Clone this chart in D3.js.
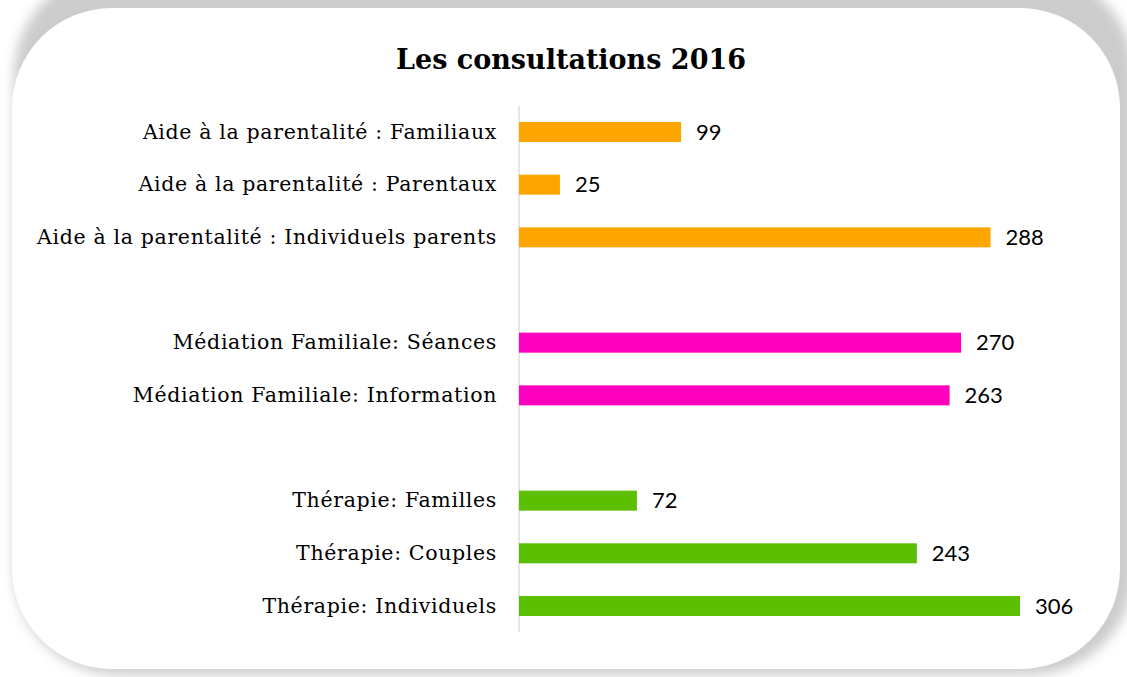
<!DOCTYPE html>
<html><head><meta charset="utf-8">
<script src="https://cdn.jsdelivr.net/npm/d3@7"></script>
<style>html,body{margin:0;padding:0;background:#fff;}svg{display:block;}</style>
</head><body>
<script>
const categories = [
  "Aide à la parentalité : Familiaux",
  "Aide à la parentalité : Parentaux",
  "Aide à la parentalité : Individuels parents",
  "",
  "Médiation Familiale: Séances",
  "Médiation Familiale: Information",
  " ",
  "Thérapie: Familles",
  "Thérapie: Couples",
  "Thérapie: Individuels"
];
const values = [99, 25, 288, null, 270, 263, null, 72, 243, 306];
const groups = ["aide", "aide", "aide", null, "med", "med", null, "ther", "ther", "ther"];
const groupColors = {aide: "#FFA500", med: "#FF00BF", ther: "#5CBF00"};
const title = "Les consultations 2016";

const W = 1127, H = 677;
const svg = d3.select("body").append("svg").attr("width", W).attr("height", H);
const defs = svg.append("defs");
const f = defs.append("filter").attr("id", "sh").attr("x", "-10%").attr("y", "-10%").attr("width", "120%").attr("height", "120%");
f.append("feGaussianBlur").attr("stdDeviation", 6);

svg.append("rect").attr("width", W).attr("height", H).attr("fill", "#fff");
svg.append("rect").attr("x", 14).attr("y", -30).attr("width", 1120).attr("height", 705)
  .attr("rx", 105).attr("fill", "#cccccc").attr("filter", "url(#sh)");
svg.append("rect").attr("x", 12).attr("y", 8).attr("width", 1108).attr("height", 661)
  .attr("rx", 100).attr("fill", "#fff");

svg.append("text").attr("x", 571).attr("y", 69).attr("text-anchor", "middle")
  .attr("font-family", "'DejaVu Serif', serif").attr("font-weight", "bold")
  .attr("font-size", 27).attr("fill", "#000").text(title);

const x = d3.scaleLinear().domain([0, 306]).range([519, 1020]);
const y = d3.scaleBand().domain(categories).range([105.7, 632.3]).paddingInner(0.62).paddingOuter(0.31);

const yAxis = d3.axisLeft(y).tickSize(0).tickPadding(22);
const gy = svg.append("g").attr("transform", "translate(519,0)").call(yAxis);
gy.select(".domain").attr("stroke", "#e6e6e6").attr("stroke-width", 2)
  .attr("d", "M0,105.7V632.3");
gy.selectAll("text").attr("font-family", "'DejaVu Serif', serif").attr("font-size", 20.5)
  .attr("fill", "#000").attr("dx", 0).attr("letter-spacing", 0.65);

const data = categories.map((c, i) => ({c, v: values[i], g: groups[i]})).filter(d => d.v != null);
svg.append("g").selectAll("rect").data(data).join("rect")
  .attr("x", x(0)).attr("y", d => y(d.c)).attr("width", d => x(d.v) - x(0))
  .attr("height", y.bandwidth()).attr("fill", d => groupColors[d.g]);

svg.append("g").selectAll("text").data(data).join("text")
  .attr("x", d => x(d.v) + 15).attr("y", d => y(d.c) + y.bandwidth() / 2)
  .attr("dy", "0.35em").attr("font-family", "Lato, sans-serif").attr("font-size", 22)
  .attr("fill", "#000").text(d => d.v);
</script>
</body></html>
